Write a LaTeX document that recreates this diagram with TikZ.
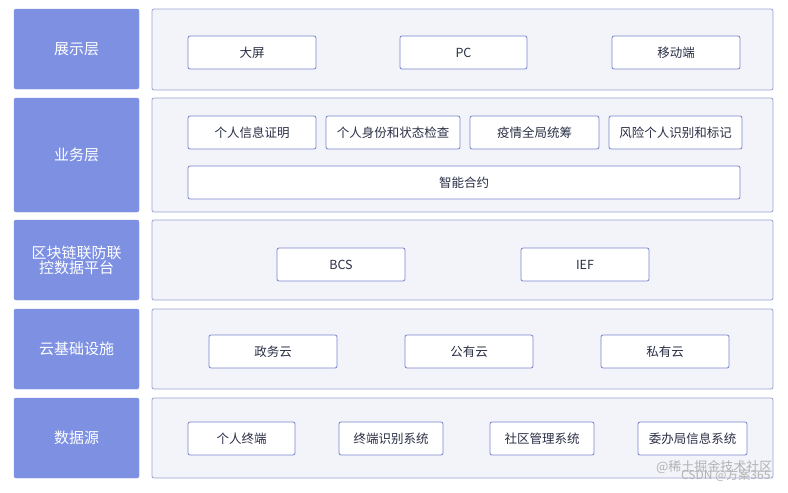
\documentclass[tikz,border=0pt]{standalone}
\usepackage{fontspec}
\setmainfont{Noto Sans CJK SC}
\begin{document}
\begin{tikzpicture}[x=1pt,y=-1pt,
  lab/.style={fill=labc,draw=labc,rounded corners=2pt,text=white,font=\fontsize{15}{18}\selectfont,align=center},
  panel/.style={fill=panc,draw=pand,line width=0.8pt,rounded corners=2pt},
  ibox/.style={fill=white,draw=boxd,line width=0.8pt,rounded corners=2pt,text=txt,font=\fontsize{12.5}{14}\selectfont}]
\definecolor{labc}{HTML}{7D90E2}
\definecolor{panc}{HTML}{F3F4F9}
\definecolor{pand}{HTML}{9AA2D4}
\definecolor{boxd}{HTML}{7884CC}
\definecolor{txt}{HTML}{2A2F45}
\useasboundingbox[fill=white] (0,0) rectangle (788,493);
\newcommand\lbox[6]{\node[lab,minimum width=#3-#1,minimum height=#4-#2] (#5) at ({(#1+#3)/2},{(#2+#4)/2}) {#6};}
\newcommand\pbox[5]{\node[panel,minimum width=#3-#1,minimum height=#4-#2] (#5) at ({(#1+#3)/2},{(#2+#4)/2}) {};}
\newcommand\ibx[6]{\node[ibox,minimum width=#3-#1,minimum height=#4-#2] (#5) at ({(#1+#3)/2},{(#2+#4)/2}) {#6};}
\lbox{14}{9}{139}{89}{l1}{展示层}
\lbox{14}{98}{139}{212}{l2}{业务层}
\lbox{14}{220}{139}{300}{l3}{区块链联防联\\[-3pt]控数据平台}
\lbox{14}{309}{139}{389}{l4}{云基础设施}
\lbox{14}{398}{139}{478}{l5}{数据源}
\pbox{152}{9}{773}{90}{p1}
\pbox{152}{98}{773}{212}{p2}
\pbox{152}{220}{773}{300}{p3}
\pbox{152}{309}{773}{389}{p4}
\pbox{152}{398}{773}{478}{p5}
\ibx{188}{36}{316}{69}{a1}{大屏}
\ibx{400}{36}{527}{69}{a2}{PC}
\ibx{612}{36}{740}{69}{a3}{移动端}
\ibx{188}{116}{316}{149}{b1}{个人信息证明}
\ibx{326}{116}{460}{149}{b2}{个人身份和状态检查}
\ibx{470}{116}{599}{149}{b3}{疫情全局统筹}
\ibx{609}{116}{742}{149}{b4}{风险个人识别和标记}
\ibx{188}{166}{740}{199}{b5}{智能合约}
\ibx{277}{248}{405}{281}{c1}{BCS}
\ibx{521}{248}{649}{281}{c2}{IEF}
\ibx{209}{335}{337}{368}{d1}{政务云}
\ibx{405}{335}{533}{368}{d2}{公有云}
\ibx{601}{335}{729}{368}{d3}{私有云}
\ibx{188}{422}{295}{455}{e1}{个人终端}
\ibx{339}{422}{443}{455}{e2}{终端识别系统}
\ibx{490}{422}{594}{455}{e3}{社区管理系统}
\ibx{638}{422}{747}{455}{e4}{委办局信息系统}
\node[text=gray!60,font=\fontsize{13}{15}\selectfont,anchor=east] (w1) at (776,467) {@稀土掘金技术社区};
\node[text=gray!60,font=\fontsize{12}{14}\selectfont,anchor=east] (w2) at (774,475) {CSDN @方案365};
\end{tikzpicture}
\end{document}
